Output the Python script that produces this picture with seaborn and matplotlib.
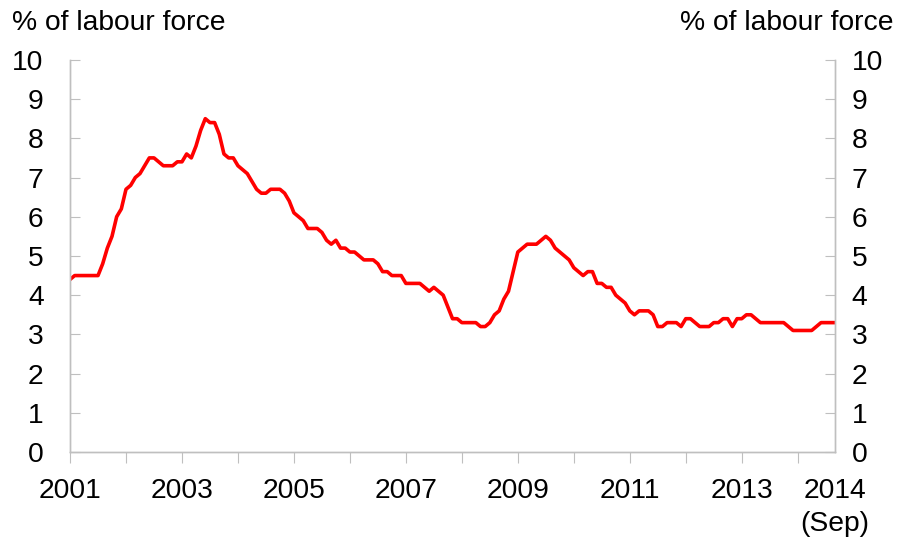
import numpy as np
import pandas as pd
import matplotlib
matplotlib.use('Agg')
import matplotlib.pyplot as plt
import seaborn as sns

# ── DATA ────────────────────────────────────────────────────────
# monthly unemployment rate, Jan 2001 - Sep 2014 (% of labour force)
rate_2001 = [4.4, 4.5, 4.5, 4.5, 4.5, 4.5, 4.5, 4.8, 5.2, 5.5, 6.0, 6.2]
rate_2002 = [6.7, 6.8, 7.0, 7.1, 7.3, 7.5, 7.5, 7.4, 7.3, 7.3, 7.3, 7.4]
rate_2003 = [7.4, 7.6, 7.5, 7.8, 8.2, 8.5, 8.4, 8.4, 8.1, 7.6, 7.5, 7.5]
rate_2004 = [7.3, 7.2, 7.1, 6.9, 6.7, 6.6, 6.6, 6.7, 6.7, 6.7, 6.6, 6.4]
rate_2005 = [6.1, 6.0, 5.9, 5.7, 5.7, 5.7, 5.6, 5.4, 5.3, 5.4, 5.2, 5.2]
rate_2006 = [5.1, 5.1, 5.0, 4.9, 4.9, 4.9, 4.8, 4.6, 4.6, 4.5, 4.5, 4.5]
rate_2007 = [4.3, 4.3, 4.3, 4.3, 4.2, 4.1, 4.2, 4.1, 4.0, 3.7, 3.4, 3.4]
rate_2008 = [3.3, 3.3, 3.3, 3.3, 3.2, 3.2, 3.3, 3.5, 3.6, 3.9, 4.1, 4.6]
rate_2009 = [5.1, 5.2, 5.3, 5.3, 5.3, 5.4, 5.5, 5.4, 5.2, 5.1, 5.0, 4.9]
rate_2010 = [4.7, 4.6, 4.5, 4.6, 4.6, 4.3, 4.3, 4.2, 4.2, 4.0, 3.9, 3.8]
rate_2011 = [3.6, 3.5, 3.6, 3.6, 3.6, 3.5, 3.2, 3.2, 3.3, 3.3, 3.3, 3.2]
rate_2012 = [3.4, 3.4, 3.3, 3.2, 3.2, 3.2, 3.3, 3.3, 3.4, 3.4, 3.2, 3.4]
rate_2013 = [3.4, 3.5, 3.5, 3.4, 3.3, 3.3, 3.3, 3.3, 3.3, 3.3, 3.2, 3.1]
rate_2014 = [3.1, 3.1, 3.1, 3.1, 3.2, 3.3, 3.3, 3.3, 3.3]

year_labels = ['2001', '2003', '2005', '2007', '2009', '2011', '2013', '2014\n(Sep)']
y_ticks = list(range(0, 11))
axis_title = '% of labour force'

rates = (rate_2001 + rate_2002 + rate_2003 + rate_2004 + rate_2005 + rate_2006 +
         rate_2007 + rate_2008 + rate_2009 + rate_2010 + rate_2011 + rate_2012 +
         rate_2013 + rate_2014)
df = pd.DataFrame({'month': np.arange(len(rates)), 'rate': rates})
n_last = len(rates) - 1

# ── STYLE ───────────────────────────────────────────────────────
sns.set_style('white')
plt.rcParams['font.family'] = ['Liberation Sans', 'DejaVu Sans']
plt.rcParams['text.color'] = 'black'
plt.rcParams['xtick.labelcolor'] = 'black'
plt.rcParams['ytick.labelcolor'] = 'black'
grey = '#bfbfbf'
fs = 20.3

fig = plt.figure(figsize=(9, 5.44), dpi=100)
ax = fig.add_axes([0.0778, 0.169, 0.850, 0.721])

sns.lineplot(data=df, x='month', y='rate', color='#ff0000', linewidth=2.6, ax=ax)

ax.set_xlim(0, n_last)
ax.set_ylim(0, 10)
ax.set_xlabel('')
ax.set_ylabel('')

# x axis: yearly long ticks, half-yearly short ticks, labels every two years + last month
ax.set_xticks(list(range(0, 145, 24)) + [n_last])
ax.set_xticklabels(year_labels, fontsize=fs, linespacing=1.35)
ax.tick_params(axis='x', which='major', length=0, pad=19)
ax.set_xticks([m for m in range(0, n_last + 1, 6)], minor=True)
ax.tick_params(axis='x', which='minor', direction='out', length=5, width=0.8, color=grey)

# longer marks at each January
year_ax = ax.secondary_xaxis('bottom')
year_ax.set_xticks(range(0, n_last + 1, 12))
year_ax.set_xticklabels([])
year_ax.tick_params(axis='x', direction='out', length=8, width=0.8, color=grey)
year_ax.spines['bottom'].set_visible(False)

ax.set_yticks(y_ticks)
ax.tick_params(axis='y', direction='in', length=7, width=0.8, color=grey,
               labelsize=fs, pad=19)

ax2 = ax.twinx()
ax2.set_ylim(0, 10)
ax2.set_yticks(y_ticks)
ax2.tick_params(axis='y', direction='in', length=7, width=0.8, color=grey,
                labelsize=fs, pad=12)

for a in (ax, ax2):
    a.spines['top'].set_visible(False)
    for s in ('left', 'right', 'bottom'):
        a.spines[s].set_color(grey)
        a.spines[s].set_linewidth(1.0)

fig.text(0.013, 0.958, axis_title, fontsize=fs, ha='left', va='center')
fig.text(0.993, 0.958, axis_title, fontsize=fs, ha='right', va='center')

plt.savefig('out.png', dpi=100)
plt.close()
